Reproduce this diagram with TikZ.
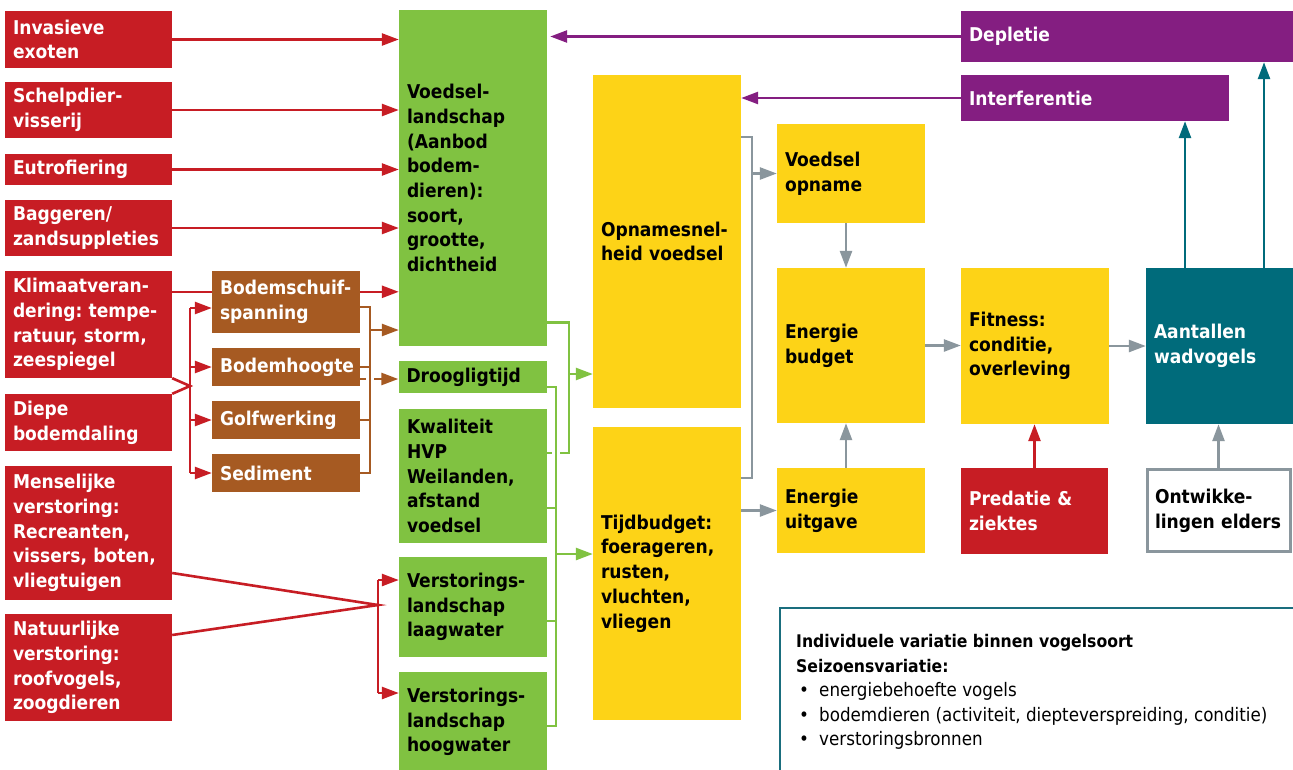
\documentclass[tikz,border=0pt]{standalone}
\usepackage{fontspec}
\setmainfont{DejaVu Sans Condensed}[BoldFont={DejaVu Sans Condensed Bold}]
\usetikzlibrary{arrows.meta,calc}
\pgfdeclarelayer{bg}\pgfdeclarelayer{lines}\pgfsetlayers{bg,lines,main}
\hyphenpenalty=10000
\exhyphenpenalty=10000
\frenchspacing
\definecolor{cred}{HTML}{C71D24}
\definecolor{cbrown}{HTML}{A65A22}
\definecolor{cgreen}{HTML}{80C241}
\definecolor{cyellow}{HTML}{FDD317}
\definecolor{cpurple}{HTML}{841E81}
\definecolor{cteal}{HTML}{006B7B}
\definecolor{cteallight}{HTML}{1A6E7E}
\definecolor{cgray}{HTML}{8A969D}
\tikzset{
  lbl/.style={font=\fontsize{19}{24.7}\selectfont\bfseries},
  box/.style={rectangle, lbl, inner xsep=8pt, inner ysep=0pt, align=left},
  redbox/.style={box, fill=cred, text=white},
  brownbox/.style={box, fill=cbrown, text=white},
  greenbox/.style={box, fill=cgreen, text=black},
  yellowbox/.style={box, fill=cyellow, text=black},
  purplebox/.style={box, fill=cpurple, text=white},
  tealbox/.style={box, fill=cteal, text=white},
  whitebox/.style={box, fill=white, draw=cgray, line width=3pt, text=black},
  tip/.style={-{Triangle[length=17pt,width=12pt]}},
  con/.style={line width=2.6pt},
  redline/.style={con, draw=cred},
  brownline/.style={con, draw=cbrown},
  greenline/.style={con, draw=cgreen},
  grayline/.style={con, draw=cgray},
  redarr/.style={redline, tip},
  brownarr/.style={brownline, tip},
  greenarr/.style={greenline, tip},
  grayarr/.style={grayline, tip},
  tealarr/.style={con, draw=cteal, tip},
  purparr/.style={con, draw=cpurple, tip},
  bridge/.style={preaction={draw=white, line width=8pt}},
}
\newcommand\infobul{\hspace*{3pt}\makebox[20pt][l]{\textbullet}}
\begin{document}
\begin{tikzpicture}[x=1pt,y=-1pt]
\useasboundingbox (0,0) rectangle (1293,769);
\begin{pgfonlayer}{bg}
\fill[white] (0,0) rectangle (1293,769);
\end{pgfonlayer}

% left red boxes
\node[redbox, minimum width=167pt, minimum height=57pt, text width=151pt] (inv) at (88.5,39.5) {Invasieve\\exoten};
\node[redbox, minimum width=167pt, minimum height=56pt, text width=151pt] (sch) at (88.5,110) {Schelpdier-\\visserij};
\node[redbox, minimum width=167pt, minimum height=31pt, text width=151pt] (eut) at (88.5,169.5) {Eutrofiering};
\node[redbox, minimum width=167pt, minimum height=56pt, text width=151pt] (bag) at (88.5,228) {Baggeren/\\zandsuppleties};
\node[redbox, minimum width=167pt, minimum height=107pt, text width=151pt] (klim) at (88.5,324.5) {Klimaatveran-\\dering: tempe-\\ratuur, storm,\\zeespiegel};
\node[redbox, minimum width=167pt, minimum height=57pt, text width=151pt] (diep) at (88.5,422.5) {Diepe\\bodemdaling};
\node[redbox, minimum width=167pt, minimum height=134pt, text width=151pt] (mens) at (88.5,533) {Menselijke\\verstoring:\\Recreanten,\\vissers, boten,\\vliegtuigen};
\node[redbox, minimum width=167pt, minimum height=107pt, text width=151pt] (natu) at (88.5,667.5) {Natuurlijke\\verstoring:\\roofvogels,\\zoogdieren};

% brown boxes
\node[brownbox, minimum width=148pt, minimum height=62pt, text width=132pt] (bsch) at (286,302) {Bodemschuif-\\spanning};
\node[brownbox, minimum width=148pt, minimum height=38pt, text width=132pt] (bhoo) at (286,367) {Bodemhoogte};
\node[brownbox, minimum width=148pt, minimum height=38pt, text width=132pt] (golf) at (286,420) {Golfwerking};
\node[brownbox, minimum width=148pt, minimum height=38pt, text width=132pt] (sedi) at (286,473) {Sediment};

% green boxes
\node[greenbox, minimum width=148pt, minimum height=336pt, text width=132pt] (voed) at (473,178) {Voedsel-\\landschap\\(Aanbod\\bodem-\\dieren):\\soort,\\grootte,\\dichtheid};
\node[greenbox, minimum width=148pt, minimum height=32pt, text width=132pt] (droog) at (472.5,377) {Droogligtijd};
\node[greenbox, minimum width=148pt, minimum height=134pt, text width=132pt] (kwal) at (473,476) {Kwaliteit\\HVP\\Weilanden,\\afstand\\voedsel};
\node[greenbox, minimum width=148pt, minimum height=100pt, text width=132pt] (laag) at (473,607) {Verstorings-\\landschap\\laagwater};
\node[greenbox, minimum width=148pt, minimum height=100pt, text width=132pt] (hoog) at (473,722) {Verstorings-\\landschap\\hoogwater};

% yellow boxes
\node[yellowbox, minimum width=148pt, minimum height=333pt, text width=132pt] (opn) at (667,241.5) {Opnamesnel-\\heid voedsel};
\node[yellowbox, minimum width=148pt, minimum height=293pt, text width=132pt] (tijd) at (667,573.5) {Tijdbudget:\\foerageren,\\rusten,\\vluchten,\\vliegen};
\node[yellowbox, minimum width=148pt, minimum height=99pt, text width=132pt] (vop) at (851,173.5) {Voedsel\\opname};
\node[yellowbox, minimum width=148pt, minimum height=155pt, text width=132pt] (ebud) at (851,345.5) {Energie\\budget};
\node[yellowbox, minimum width=148pt, minimum height=85pt, text width=132pt] (euit) at (851,510.5) {Energie\\uitgave};
\node[yellowbox, minimum width=148pt, minimum height=156pt, text width=132pt] (fit) at (1035,346) {Fitness:\\conditie,\\overleving};

% right boxes
\node[redbox, minimum width=147pt, minimum height=86pt, text width=131pt] (pred) at (1034.5,511) {Predatie \&\\ziektes};
\node[whitebox, minimum width=143pt, minimum height=82pt, text width=127pt] (ontw) at (1218.5,510.5) {Ontwikke-\\lingen elders};
\node[tealbox, minimum width=147pt, minimum height=156pt, text width=131pt] (aant) at (1219.5,346) {Aantallen\\wadvogels};
\node[purplebox, minimum width=332pt, minimum height=51pt, text width=316pt] (depl) at (1127,36.5) {Depletie};
\node[purplebox, minimum width=268pt, minimum height=46pt, text width=252pt] (intf) at (1095,98) {Interferentie};

% info box
\node[draw=cteallight, line width=2pt, fill=white, minimum width=530pt, minimum height=200pt, anchor=north west, inner sep=0pt] (info) at (779,607) {};
\node[anchor=north west, inner sep=0pt, align=left, text=black,
      font=\fontsize{18.6}{24.5}\selectfont] (infotxt) at (796,634.5)
  {{\fontsize{17.4}{24.5}\selectfont\bfseries Individuele variatie binnen vogelsoort}\\
   {\fontsize{17.4}{24.5}\selectfont\bfseries Seizoensvariatie:}\\
   \infobul energiebehoefte vogels\\
   \infobul bodemdieren (activiteit, diepteverspreiding, conditie)\\
   \infobul verstoringsbronnen};

% junction coordinates
\coordinate (kd) at (190,386);
\coordinate (rb1) at (190,308);
\coordinate (rb2) at (190,473);
\coordinate (md) at (378,605);
\coordinate (bb) at (370,0);
\coordinate (gb1) at (569,0);
\coordinate (gb2) at (556,0);
\coordinate (yb) at (752,0);

\begin{pgfonlayer}{lines}
% red connectors
\foreach \n in {inv,sch,eut,bag} \draw[redarr] (\n.east) -- (\n.east -| voed.west);
\coordinate (k1) at ([yshift=-21pt]klim.north east);
\draw[redarr] (k1) -- (k1 -| voed.west);
\draw[redline] (klim.south east) -- (kd) -- (diep.north east);
\draw[redline] (rb1) -- (rb2);
\draw[redarr] (rb1) -- (rb1 -| bsch.west);
\draw[redarr] (bhoo.west -| rb1) -- (bhoo.west);
\draw[redarr] (golf.west -| rb1) -- (golf.west);
\draw[redarr] (sedi.west -| rb1) -- (sedi.west);
\coordinate (m1) at ([yshift=-40pt]mens.east);
\coordinate (n1) at ([yshift=32.5pt]natu.east);
\draw[redline] (m1) -- (md) -- (n1);
\coordinate (l1) at ([yshift=27pt]laag.west);
\coordinate (h1) at ([yshift=29pt]hoog.west);
\draw[redline] (l1 -| md) -- (h1 -| md);
\draw[redarr] (l1 -| md) -- (l1);
\draw[redarr] (h1 -| md) -- (h1);

% brown connectors
\coordinate (b0) at ([yshift=-5pt]bsch.east);
\coordinate (bd) at ([yshift=-12pt]bhoo.east);
\coordinate (b2) at ([yshift=-152pt]voed.west);
\draw[brownarr] (bd) -- (bd -| droog.west);
\draw[brownline, bridge] (b0) -- (b0 -| bb) -- (sedi.east -| bb) -- (sedi.east);
\draw[brownline] (bhoo.east) -- (bhoo.east -| bb);
\draw[brownline] (golf.east) -- (golf.east -| bb);
\draw[brownarr] (b2 -| bb) -- (b2);

% green connectors
\coordinate (g1) at ([yshift=24pt]voed.south east);
\coordinate (g2) at ([yshift=-44pt]kwal.north east);
\coordinate (g3) at ([yshift=-132.5pt]opn.west);
\draw[greenline] (g1) -- (g1 -| gb1) -- (g2 -| gb1) -- (g2);
\draw[greenarr] (g3 -| gb1) -- (g3);
\coordinate (d1) at ([yshift=-10pt]droog.east);
\coordinate (k2) at ([yshift=-32pt]kwal.east);
\coordinate (l2) at ([yshift=-14pt]laag.east);
\coordinate (h2) at ([yshift=-4pt]hoog.east);
\coordinate (t1) at ([yshift=19.5pt]tijd.west);
\draw[greenline, bridge] (d1) -- (d1 -| gb2) -- (h2 -| gb2) -- (h2);
\draw[greenline] (k2) -- (k2 -| gb2);
\draw[greenline] (l2) -- (l2 -| gb2);
\draw[greenarr] (t1 -| gb2) -- (t1);

% gray connectors
\coordinate (y1) at ([yshift=-62pt]opn.north east);
\coordinate (y2) at ([yshift=-51pt]tijd.north east);
\draw[grayline] (y1) -- (y1 -| yb) -- (y2 -| yb) -- (y2);
\draw[grayarr] (vop.west -| yb) -- (vop.west);
\draw[grayarr] (euit.west -| tijd.east) -- (euit.west);
\coordinate (v1) at ([xshift=-5pt]vop.south);
\coordinate (e1) at ([xshift=-5pt]euit.north);
\draw[grayarr] (v1) -- (v1 |- ebud.north);
\draw[grayarr] (e1) -- (e1 |- ebud.south);
\draw[grayarr] (ebud.east) -- (ebud.east -| fit.west);
\draw[grayarr] (fit.east) -- (fit.east -| aant.west);
\draw[redarr] (pred.north) -- (pred.north |- fit.south);
\draw[grayarr] (ontw.north) -- (ontw.north |- aant.south);

% teal connectors
\coordinate (a1) at ([xshift=-34.5pt]aant.north);
\coordinate (a2) at ([xshift=44.5pt]aant.north);
\draw[tealarr] (a1) -- (a1 |- intf.south);
\draw[tealarr] (a2) -- (a2 |- depl.south);

% purple connectors
\draw[purparr, shorten >=3pt] (depl.west) -- (depl.west -| voed.east);
\draw[purparr] (intf.west) -- (intf.west -| opn.east);
\end{pgfonlayer}
\end{tikzpicture}
\end{document}
